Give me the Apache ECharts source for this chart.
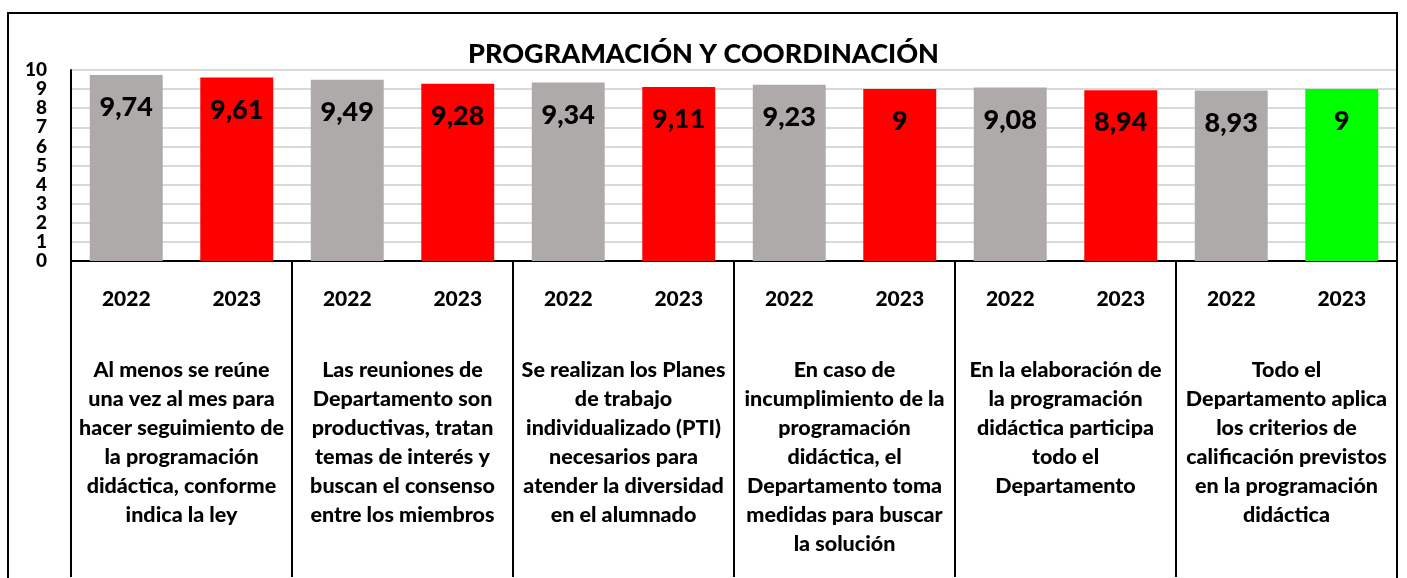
<!DOCTYPE html>
<html>
<head>
<meta charset="utf-8">
<script src="https://cdn.jsdelivr.net/npm/echarts@6/dist/echarts.min.js"></script>
<style>
  html, body { margin: 0; padding: 0; background: #fff; }
  #chart { width: 1407px; height: 578px; }
</style>
</head>
<body>
<div id="chart"></div>
<script>
// datos
let years = ["2022","2023","2022","2023","2022","2023","2022","2023","2022","2023","2022","2023"];
let values = [9.74, 9.61, 9.49, 9.28, 9.34, 9.11, 9.23, 9, 9.08, 8.94, 8.93, 9];
let groups = [
    "Al menos se reúne\nuna vez al mes para\nhacer seguimiento de\nla programación\ndidáctica, conforme\nindica la ley",
    "Las reuniones de\nDepartamento son\nproductivas, tratan\ntemas de interés y\nbuscan el consenso\nentre los miembros",
    "Se realizan los Planes\nde trabajo\nindividualizado (PTI)\nnecesarios para\natender la diversidad\nen el alumnado",
    "En caso de\nincumplimiento de la\nprogramación\ndidáctica, el\nDepartamento toma\nmedidas para buscar\nla solución",
    "En la elaboración de\nla programación\ndidáctica participa\ntodo el\nDepartamento",
    "Todo el\nDepartamento aplica\nlos criterios de\ncalificación previstos\nen la programación\ndidáctica"
];
let yTicks = [0, 10, 1];

let barColors = ["#AEAAAA","#FF0000","#AEAAAA","#FF0000","#AEAAAA","#FF0000","#AEAAAA","#FF0000","#AEAAAA","#FF0000","#AEAAAA","#00FF00"];
let font = "Lato";

var myChart = echarts.init(document.getElementById("chart"));

var option = {
    backgroundColor: "#fff",
    animation: false,
    title: {
        text: "PROGRAMACIÓN Y COORDINACIÓN",
        left: "center",
        top: 36,
        textStyle: { fontFamily: font, fontWeight: 900, fontSize: 27, color: "#000" }
    },
    graphic: [{
        type: "rect",
        shape: { x: 8, y: 13, width: 1389, height: 600 },
        style: { fill: null, stroke: "#000", lineWidth: 2 },
        z: 100
    }],
    grid: { left: 71, right: 10, top: 70, bottom: 317 },
    xAxis: [{
        type: "category",
        data: years,
        axisLine: { show: true, lineStyle: { color: "#000", width: 2 } },
        axisTick: { show: false },
        axisLabel: {
            interval: 0, margin: 28,
            fontFamily: font, fontWeight: 900, fontSize: 21, color: "#000"
        }
    }, {
        type: "category",
        data: groups,
        position: "bottom",
        axisLine: { show: false },
        axisTick: { show: true, length: 316, lineStyle: { color: "#000", width: 2 } },
        axisLabel: {
            interval: 0, margin: 95, lineHeight: 29, verticalAlign: "top",
            fontFamily: font, fontWeight: 900, fontSize: 21.5, color: "#000"
        }
    }],
    yAxis: {
        type: "value",
        min: yTicks[0], max: yTicks[1], interval: yTicks[2],
        axisLine: { show: true, lineStyle: { color: "#000", width: 2 } },
        axisTick: { show: false },
        axisLabel: {
            margin: 24, showMinLabel: true, showMaxLabel: true, hideOverlap: false,
            fontFamily: font, fontWeight: 900, fontSize: 19, color: "#000"
        },
        splitLine: { lineStyle: { color: "#D9D9D9", width: 2 } }
    },
    series: [{
        type: "bar",
        data: values,
        barWidth: "66%",
        itemStyle: {
            color: function (p) { return barColors[p.dataIndex]; }
        },
        label: {
            show: true,
            position: "insideTop",
            distance: 19,
            fontFamily: font, fontWeight: 900, fontSize: 27, color: "#000",
            formatter: function (p) { return String(p.value).replace(".", ","); }
        }
    }]
};

myChart.setOption(option);
</script>
</body>
</html>
